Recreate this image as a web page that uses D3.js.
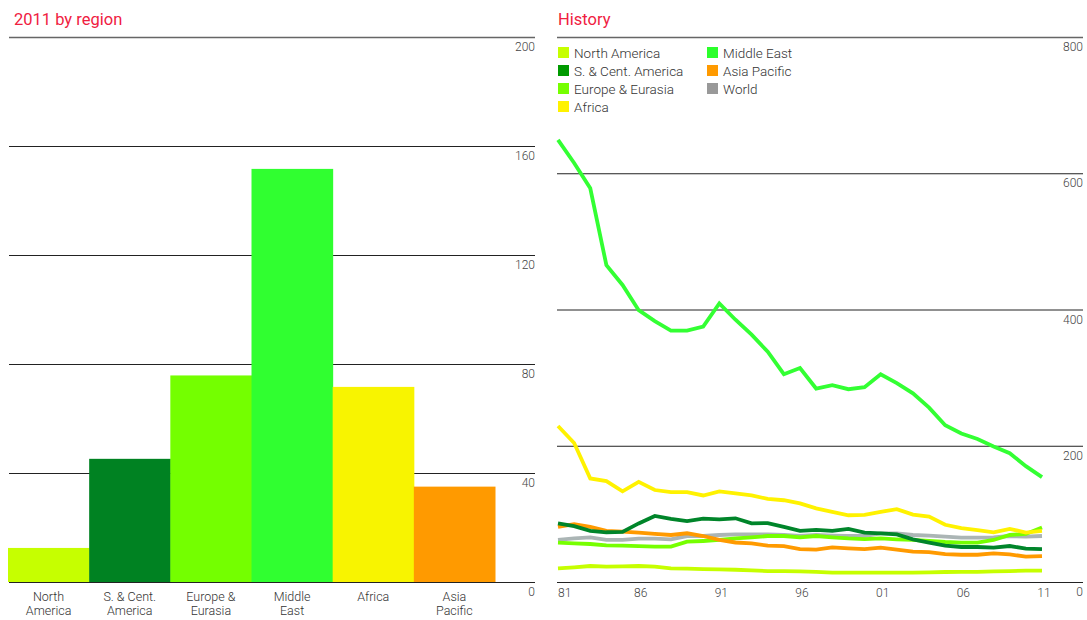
<!DOCTYPE html>
<html>
<head>
<meta charset="utf-8">
<script src="https://cdn.jsdelivr.net/npm/d3@7"></script>
<style>
  body { margin: 0; background: #fff; }
  svg text { font-family: Roboto, "Liberation Sans", Arial, sans-serif; font-weight: 300; }
  svg text.title { font-weight: 400; }
</style>
</head>
<body>
<div id="chart"></div>
<script>
// ---- data ----
const regions = ["North America", "S. & Cent. America", "Europe & Eurasia", "Middle East", "Africa", "Asia Pacific"];
const regionLabels = [["North", "America"], ["S. & Cent.", "America"], ["Europe &", "Eurasia"], ["Middle", "East"], ["Africa"], ["Asia", "Pacific"]];
const values2011 = [12.5, 45.2, 75.8, 151.6, 71.6, 35.0];
const barTicks = [0, 40, 80, 120, 160, 200];

const years = d3.range(1981, 2012);
const yearTicks = [1981, 1986, 1991, 1996, 2001, 2006, 2011];
const histTicks = [0, 200, 400, 600, 800];

const northAmerica = [20, 21.5, 23.5, 22.5, 23, 23.5, 22.5, 20, 19.6, 19, 18.6, 18, 17, 16, 16, 15.6, 15, 13.7, 13.7, 13.7, 13.7, 13.7, 13.7, 14, 14.7, 15, 15, 15.6, 16, 16.6, 16.6];
const sCentAmerica = [86, 82, 75, 73, 73.5, 86, 97, 92.5, 89.5, 93, 92, 93.5, 86, 86.5, 81, 75, 76.5, 75, 78, 72.5, 71.5, 70, 62.6, 57.8, 53.3, 51.4, 51.4, 50.4, 52.8, 49, 48.4];
const europeEurasia = [57.8, 56.8, 55.8, 53.8, 53.3, 52.8, 51.9, 51.9, 59.2, 60.2, 61.7, 64, 65.6, 67.5, 67.5, 65.6, 67.5, 65.6, 64, 63, 64, 62.6, 61.7, 60.2, 58.7, 57.8, 57.8, 61.7, 69, 70.5, 80];
const africa = [229, 204, 152, 148, 133, 147, 135, 132, 132, 127, 133, 130, 127, 122, 120, 115.5, 108, 103, 98, 98.5, 103, 107, 99, 96, 84, 79, 76, 73, 78, 72.5, 75];
const middleEast = [649, 615, 578, 465, 436, 399, 383, 369, 369, 375, 409, 385, 363, 338, 305, 314, 284, 289, 283, 286, 305, 292, 277, 256, 230, 218, 210, 199, 189, 170, 154];
const asiaPacific = [81, 85, 81, 75, 74, 72.5, 70.5, 69, 71.5, 67.5, 61.7, 58, 56.8, 53.3, 52.8, 48.4, 47.5, 50.9, 49.4, 48.4, 50.4, 47.5, 44.5, 44, 41, 40, 40, 42, 40.5, 37.2, 38];
const world = [61.7, 64, 65.6, 61.7, 61.7, 63.6, 63.6, 62.6, 67.5, 67.5, 69, 70, 70, 70, 69, 67.5, 69, 68, 67.5, 67.5, 71.5, 71.5, 69, 68, 66.5, 65, 65, 65.6, 67.5, 66.5, 67.5];

const regionColors = ["#c6ff00", "#008222", "#74ff00", "#30ff30", "#f8f400", "#ff9a00"];

const series = [
    { name: "North America", values: northAmerica, color: "#c6ff00", legend: "#c6ff00" },
    { name: "S. & Cent. America", values: sCentAmerica, color: "#00852a", legend: "#009a00" },
    { name: "Europe & Eurasia", values: europeEurasia, color: "#76ff00", legend: "#76ff00" },
    { name: "Africa", values: africa, color: "#fff200", legend: "#fff200" },
    { name: "Middle East", values: middleEast, color: "#33ff33", legend: "#2bff2b" },
    { name: "Asia Pacific", values: asiaPacific, color: "#ff9a00", legend: "#ff9a00" },
    { name: "World", values: world, color: "#abb5b5", legend: "#999999" }
];
// draw order: world behind, middle east on top
const drawOrder = ["North America", "World", "Europe & Eurasia", "Asia Pacific", "S. & Cent. America", "Africa", "Middle East"];

const svg = d3.select("#chart").append("svg")
    .attr("width", 1087)
    .attr("height", 620);

const red = "#f0203f";
const tickColor = "#444";

// ---- left: 2011 by region ----
svg.append("text")
    .attr("class", "title")
    .attr("x", 14).attr("y", 25)
    .attr("fill", red).attr("font-size", 16.5)
    .text("2011 by region");

const yBar = d3.scaleLinear().domain([0, 200]).range([582, 37]);
const xBar = d3.scaleBand().domain(regions).range([8, 495]).padding(0);

const left = svg.append("g");

left.selectAll("line.grid")
    .data(barTicks)
    .enter().append("line")
    .attr("class", "grid")
    .attr("x1", 9).attr("x2", 535)
    .attr("y1", d => yBar(d) + 0.5).attr("y2", d => yBar(d) + 0.5)
    .attr("stroke", d => d === 200 ? "#666" : "#222")
    .attr("stroke-width", d => d === 200 ? 1.5 : 1);

left.selectAll("rect.bar")
    .data(regions)
    .enter().append("rect")
    .attr("class", "bar")
    .attr("x", d => xBar(d))
    .attr("width", xBar.bandwidth() + 0.5)
    .attr("y", (d, i) => yBar(values2011[i]))
    .attr("height", (d, i) => yBar(0) - yBar(values2011[i]))
    .attr("fill", (d, i) => regionColors[i]);

left.selectAll("text.tick")
    .data(barTicks)
    .enter().append("text")
    .attr("class", "tick")
    .attr("x", 535)
    .attr("y", d => yBar(d) + 14)
    .attr("text-anchor", "end")
    .attr("font-size", 12)
    .attr("fill", tickColor)
    .text(d => d);

const catLabels = left.selectAll("text.cat")
    .data(regions)
    .enter().append("text")
    .attr("class", "cat")
    .attr("x", d => xBar(d) + xBar.bandwidth() / 2)
    .attr("y", 601)
    .attr("text-anchor", "middle")
    .attr("font-size", 12.5)
    .attr("fill", "#333");

catLabels.selectAll("tspan")
    .data((d, i) => regionLabels[i])
    .enter().append("tspan")
    .attr("x", function () { return d3.select(this.parentNode).attr("x"); })
    .attr("dy", (d, i) => i === 0 ? 0 : 14)
    .text(d => d);

// ---- right: history ----
svg.append("text")
    .attr("class", "title")
    .attr("x", 558).attr("y", 25)
    .attr("fill", red).attr("font-size", 16.5)
    .text("History");

const xHist = d3.scaleLinear().domain([1981, 2011]).range([558, 1042]);
const yHist = d3.scaleLinear().domain([0, 800]).range([582, 37]);

const right = svg.append("g");

right.selectAll("line.grid")
    .data(histTicks)
    .enter().append("line")
    .attr("class", "grid")
    .attr("x1", 557).attr("x2", 1083)
    .attr("y1", d => yHist(d) + 0.5).attr("y2", d => yHist(d) + 0.5)
    .attr("stroke", d => d === 800 ? "#666" : "#222")
    .attr("stroke-width", d => d === 800 ? 1.5 : 1);

right.selectAll("text.tick")
    .data(histTicks)
    .enter().append("text")
    .attr("class", "tick")
    .attr("x", 1083)
    .attr("y", d => yHist(d) + 14)
    .attr("text-anchor", "end")
    .attr("font-size", 12)
    .attr("fill", tickColor)
    .text(d => d);

right.selectAll("text.year")
    .data(yearTicks)
    .enter().append("text")
    .attr("class", "year")
    .attr("x", d => d === 1981 ? xHist(d) : xHist(d) + 2)
    .attr("y", 597)
    .attr("text-anchor", d => d === 1981 ? "start" : "middle")
    .attr("font-size", 12)
    .attr("fill", tickColor)
    .text(d => String(d).slice(2));

const line = d3.line()
    .x((d, i) => xHist(years[i]))
    .y(d => yHist(d));

right.selectAll("path.series")
    .data(drawOrder.map(n => series.find(s => s.name === n)))
    .enter().append("path")
    .attr("class", "series")
    .attr("d", d => line(d.values))
    .attr("fill", "none")
    .attr("stroke", d => d.color)
    .attr("stroke-width", 3.8)
    .attr("stroke-linejoin", "miter");

// legend
const legendCols = [
    ["North America", "S. & Cent. America", "Europe & Eurasia", "Africa"],
    ["Middle East", "Asia Pacific", "World"]
];
legendCols.forEach((col, c) => {
    const g = right.append("g")
        .attr("transform", "translate(" + (c === 0 ? 558 : 707) + ",47)");
    col.forEach((name, r) => {
        const s = series.find(d => d.name === name);
        g.append("rect")
            .attr("x", 0).attr("y", r * 18)
            .attr("width", 11).attr("height", 11)
            .attr("fill", s.legend);
        g.append("text")
            .attr("x", 16).attr("y", r * 18 + 10.5)
            .attr("font-size", 13.5)
            .attr("fill", "#333")
            .text(name);
    });
});
</script>
</body>
</html>
